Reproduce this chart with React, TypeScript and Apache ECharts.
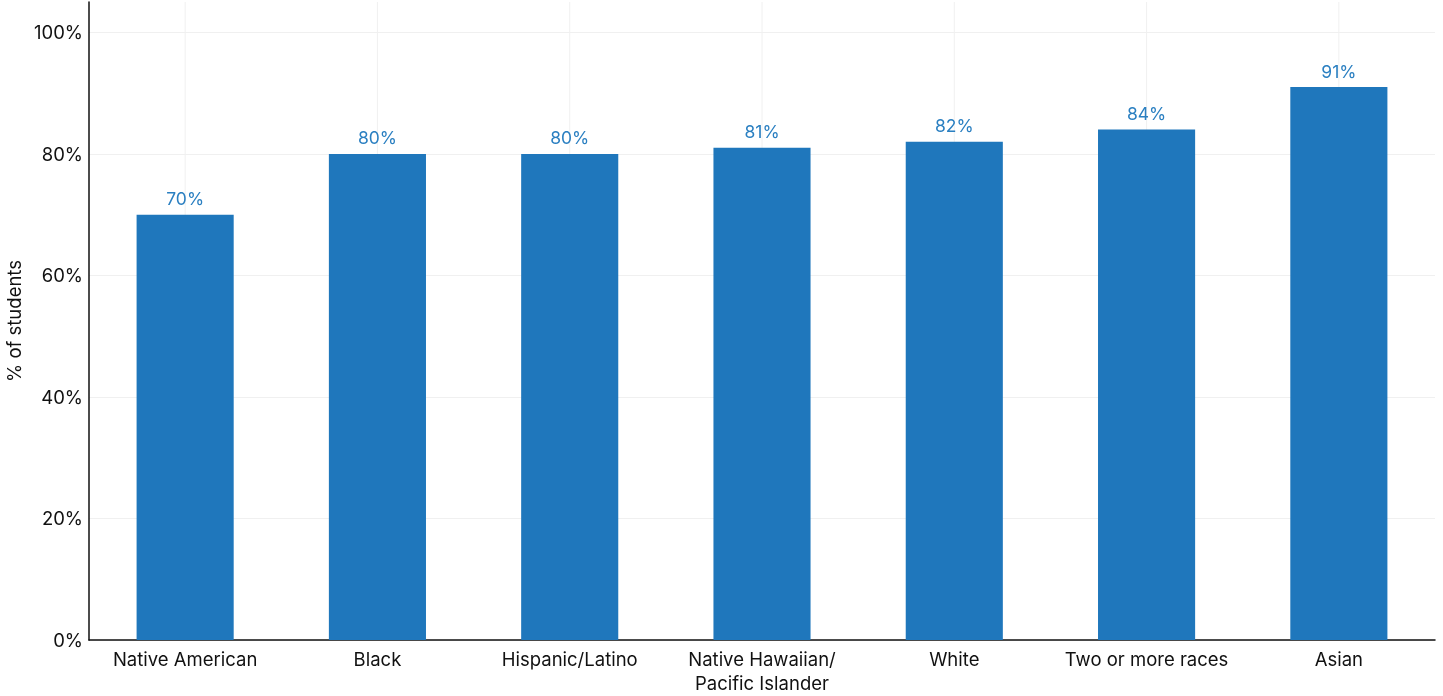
import React, { useEffect, useRef } from "react";
import * as echarts from "echarts";

const categories = [
  "Native American",
  "Black",
  "Hispanic/Latino",
  "Native Hawaiian/\nPacific Islander",
  "White",
  "Two or more races",
  "Asian",
];
const values = [70, 80, 80, 81, 82, 84, 91];
const yTicks = [0, 20, 40, 60, 80, 100];
const yAxisTitle = "% of students";

const FONT = "Inter, 'Noto Sans', sans-serif";

export default function App() {
  const ref = useRef<HTMLDivElement>(null);
  useEffect(() => {
    if (!ref.current) return;
    const chart = echarts.init(ref.current, null, { renderer: "svg" });
    chart.setOption({
      animation: false,
      textStyle: { fontFamily: FONT },
      grid: {
        left: 89,
        right: 8,
        top: 2,
        bottom: 56,
        containLabel: false,
        outerBoundsMode: "none",
      },
      xAxis: {
        type: "category",
        data: categories,
        axisLine: { show: true, lineStyle: { color: "#111", width: 1.5 } },
        axisTick: { show: false },
        axisLabel: {
          color: "#111",
          fontSize: 18.5,
          fontFamily: FONT,
          margin: 7,
          lineHeight: 24,
          interval: 0,
        },
        splitLine: { show: false },
      },
      yAxis: {
        type: "value",
        min: 0,
        max: 105,
        interval: 20,
        name: yAxisTitle,
        nameLocation: "middle",
        nameGap: 61,
        nameTextStyle: { color: "#111", fontSize: 18.5, fontFamily: FONT },
        axisLine: { show: true, lineStyle: { color: "#111", width: 1.5 } },
        axisTick: { show: false },
        axisLabel: {
          color: "#111",
          fontSize: 18.5,
          fontFamily: FONT,
          margin: 6,
          formatter: (v: number) => (yTicks.includes(v) ? v + "%" : ""),
        },
        splitLine: { show: true, showMaxLine: false, lineStyle: { color: "#f0f0f0", width: 1 } },
      },
      series: [
        {
          type: "custom",
          z: 0,
          silent: true,
          data: categories.map((c, i) => [i, 0]),
          renderItem: (params: any, api: any) => {
            const x = api.coord([api.value(0), 0])[0];
            const cs = params.coordSys;
            return {
              type: "line",
              shape: { x1: x, y1: cs.y, x2: x, y2: cs.y + cs.height },
              style: { stroke: "#f0f0f0", lineWidth: 1 },
            };
          },
        },
        {
          type: "bar",
          z: 2,
          data: values,
          barWidth: "50.5%",
          itemStyle: { color: "#1f77bc" },
          label: {
            show: true,
            position: "top",
            distance: 7,
            color: "#2a7fc1",
            fontSize: 17.5,
            fontFamily: FONT,
            formatter: (p: any) => p.value + "%",
          },
        },
      ],
    });
    return () => chart.dispose();
  }, []);
  return (
    <div
      ref={ref}
      style={{ position: "fixed", left: 0, top: 0, width: 1443, height: 696 }}
    />
  );
}
